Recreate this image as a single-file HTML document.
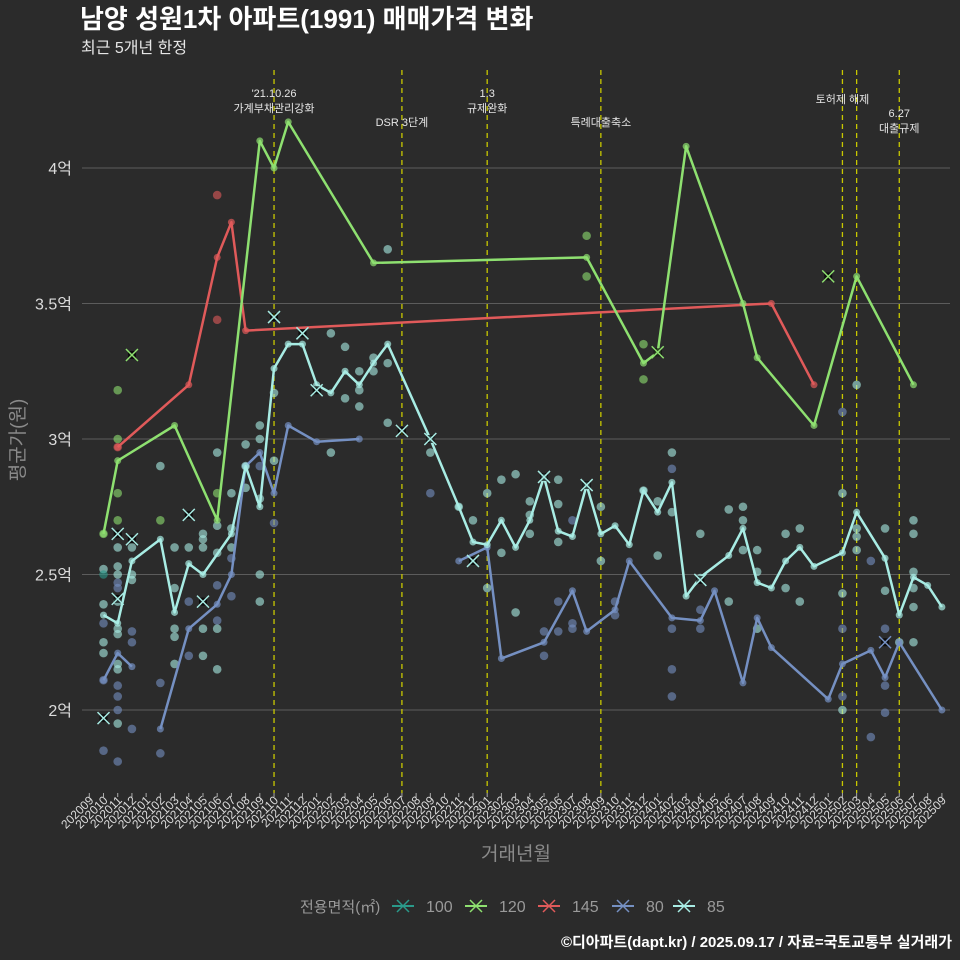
<!DOCTYPE html>
<html><head><meta charset="utf-8">
<style>
body{margin:0;background:#2b2b2b;}
svg{display:block;font-family:"Liberation Sans","Noto Sans CJK KR",sans-serif;}
</style></head>
<body>
<svg id="chart" width="960" height="960" viewBox="0 0 960 960">
<rect x="0" y="0" width="960" height="960" fill="#2b2b2b"/>
<text x="80" y="28" fill="#ffffff" font-size="26" font-weight="bold">남양 성원1차 아파트(1991) 매매가격 변화</text>
<text x="81" y="53" fill="#e6e6e6" font-size="16">최근 5개년 한정</text>
<text transform="translate(24,440) rotate(-90)" text-anchor="middle" fill="#8a8a8a" font-size="19">평균가(원)</text>
<text x="516" y="860" text-anchor="middle" fill="#8a8a8a" font-size="19">거래년월</text>
<g id="grid"></g><g id="vlines"></g><g id="annot"></g><g id="scatter"></g><g id="lines"></g><g id="marks"></g><g id="xaxis"></g><g id="yaxis"></g>
<g id="legend">
<text x="300" y="912" fill="#9a9a9a" font-size="15">전용면적(㎡)</text>
</g>
<text x="952" y="947" text-anchor="end" fill="#ffffff" font-size="15" font-weight="bold">©디아파트(dapt.kr) / 2025.09.17 / 자료=국토교통부 실거래가</text>
</svg>
<script>
const months = [];
for (let y = 2020, m = 9; months.length < 61; ) { months.push(String(y) + String(m).padStart(2, '0')); m++; if (m > 12) { m = 1; y++; } }
const yTicks = [2, 2.5, 3, 3.5, 4];
const yTickLabels = ['2억', '2.5억', '3억', '3.5억', '4억'];
const seriesNames = ['100', '120', '145', '80', '85'];
const seriesColors = {'100':'#2a9a8a','120':'#8ee070','145':'#e05a5a','80':'#7590c2','85':'#a8ece4'};
// line series: month index + value; null value = break
const line120Months = [1,2,6,9,12,13,14,20,35,39,40,42,46,47,51,54,58];
const line120Values = [2.65,2.92,3.05,2.70,4.10,4.00,4.17,3.65,3.67,3.28,3.32,4.08,3.50,3.30,3.05,3.60,3.20];
const line145Months = [2,7,9,10,11,48,51];
const line145Values = [2.97,3.20,3.67,3.80,3.40,3.50,3.20];
const line80Months = [1,2,3,4,5,7,9,10,11,12,13,14,16,19,22,26,28,29,32,34,35,37,38,41,43,44,46,47,48,52,53,55,56,57,60];
const line80Values = [2.11,2.21,2.16,null,1.93,2.30,2.39,2.50,2.90,2.95,2.80,3.05,2.99,3.00,null,2.55,2.60,2.19,2.25,2.44,2.29,2.37,2.55,2.34,2.33,2.44,2.10,2.34,2.23,2.04,2.17,2.22,2.12,2.25,2.00];
const line85Months = [1,2,3,5,6,7,8,10,11,12,13,14,15,16,17,18,19,20,21,24,26,27,28,29,30,31,32,33,34,35,36,37,38,39,40,41,42,43,45,46,47,48,49,50,51,53,54,56,57,58,59,60];
const line85Values = [2.35,2.32,2.55,2.63,2.36,2.54,2.50,2.65,2.90,2.75,3.26,3.35,3.35,3.20,3.17,3.25,3.20,3.28,3.35,3.00,2.75,2.62,2.61,2.70,2.60,2.70,2.86,2.66,2.64,2.83,2.65,2.68,2.61,2.81,2.73,2.84,2.42,2.49,2.57,2.67,2.47,2.45,2.55,2.60,2.53,2.58,2.73,2.56,2.35,2.49,2.46,2.38];
// scatter transactions
const scMonths = [1,1,1,1,1,1,1,1,1, 2,2,2,2,2,2,2,2,2,2,2,2,2,2,2,2,2,2,2,2, 3,3,3,3,3,3, 5,5,5,5, 6,6,6,6,6, 7,7,7, 8,8,8,8,8, 9,9,9,9,9,9,9,9,9,9, 10,10,10,10,10, 11,11,11, 12,12,12,12,12,12, 13,13,13, 17,17, 18,18, 19,19,19, 20,20, 21,21,21, 24,24, 26, 27, 28,28, 29,29, 30,30, 31,31,31, 32,32, 33,33,33,33,33, 34,34,34, 35,35, 36,36, 37,37, 39,39,39, 40,40, 41,41,41,41,41,41, 43,43,43, 45,45, 46,46,46, 47,47,47, 49,49, 50,50, 53,53,53,53,53,53, 54,54,54,54, 55,55, 56,56,56,56,56, 57, 58,58,58,58,58,58];
const scValues = [2.65,2.52,2.50,2.39,2.32,2.25,2.21,2.11,1.85, 3.18,3.00,2.80,2.70,2.60,2.53,2.50,2.47,2.45,2.40,2.30,2.28,2.17,2.15,2.09,2.05,2.00,1.95,1.81,2.97, 2.60,2.50,2.48,2.29,2.25,1.93, 2.90,2.70,2.10,1.84, 2.60,2.45,2.30,2.27,2.17, 2.60,2.40,2.20, 2.65,2.63,2.60,2.30,2.20, 2.95,2.80,2.68,2.58,2.46,2.33,2.30,2.15,3.90,3.44, 2.80,2.67,2.60,2.56,2.42, 2.98,2.90,2.82, 3.05,3.00,2.90,2.78,2.50,2.40, 3.17,2.92,2.69, 3.39,2.95, 3.34,3.15, 3.25,3.12,3.18, 3.30,3.25, 3.70,3.28,3.06, 2.95,2.80, 2.75, 2.70, 2.80,2.45, 2.85,2.58, 2.87,2.36, 2.77,2.72,2.65, 2.29,2.20, 2.85,2.76,2.62,2.40,2.29, 2.70,2.32,2.30, 3.75,3.60, 2.75,2.55, 2.40,2.35, 3.35,3.22,2.81, 2.77,2.57, 2.95,2.89,2.73,2.30,2.15,2.05, 2.65,2.37,2.30, 2.74,2.40, 2.75,2.70,2.59, 2.59,2.51,2.30, 2.65,2.45, 2.67,2.40, 3.10,2.80,2.43,2.30,2.05,2.00, 3.20,2.67,2.64,2.59, 2.55,1.90, 2.67,2.44,2.30,2.09,1.99, 2.25, 2.70,2.65,2.51,2.45,2.38,2.25];
const scSeries = ['120','85','100','85','80','85','85','80','80', '120','120','120','120','85','85','85','80','80','85','85','85','85','85','80','80','80','85','80','145', '85','85','85','80','80','80', '85','120','80','80', '85','85','85','85','85', '85','80','80', '85','85','85','85','85', '85','120','85','85','80','80','85','85','145','145', '85','85','85','80','80', '85','85','85', '85','85','80','85','85','85', '85','85','80', '85','85', '85','85', '85','85','85', '85','85', '85','85','85', '85','80', '85', '85', '85','85', '85','85', '85','85', '85','85','85', '80','80', '85','85','85','80','80', '80','80','80', '120','120', '85','85', '80','80', '120','120','85', '85','85', '85','80','85','80','80','80', '85','80','80', '85','85', '85','85','85', '85','85','85', '85','85', '85','85', '80','85','85','80','80','85', '85','85','85','85', '80','80', '85','85','80','80','80', '85', '85','85','85','85','85','85'];
// cancelled-deal markers
const xMonths = [3,52,40,2,3,7,2,8,1,13,15,16,22,24,27,32,35,43,56];
const xValues = [3.31,3.60,3.32,2.65,2.63,2.72,2.41,2.40,1.97,3.45,3.39,3.18,3.03,3.00,2.55,2.86,2.83,2.48,2.25];
const xSeries = ['120','120','120','85','85','85','85','85','85','85','85','85','85','85','85','85','85','85','80'];
// policy events
const eventMonths = ['202110','202207','202301','202309','202502','202503','202506'];
const eventLabels = [["'21.10.26","가계부채관리강화"],["DSR 3단계"],["1.3","규제완화"],["특례대출축소"],["토허제 해제"],[],["6.27","대출규제"]];

const NS = 'http://www.w3.org/2000/svg';
const X0 = 89.3, DX = 14.21;
const xScale = i => X0 + i * DX;
const yScale = v => 168 + (4 - v) * 271;
function mk(tag, attrs, parent) { const e = document.createElementNS(NS, tag); for (const k in attrs) e.setAttribute(k, attrs[k]); parent.appendChild(e); return e; }

const grid = document.getElementById('grid'), yaxis = document.getElementById('yaxis');
yTicks.forEach((t, k) => {
  const l = mk('line', {x1: 82, x2: 950, y1: yScale(t), y2: yScale(t), stroke: '#5c5c5c', 'stroke-width': 1.1}, grid);
  
  
  const tx = mk('text', {x: 72, y: yScale(t) + 6, 'text-anchor': 'end', fill: '#dcdcdc', 'font-size': 16}, yaxis);
  tx.textContent = yTickLabels[k];
  
  
});
const xaxis = document.getElementById('xaxis');
months.forEach((m, i) => {
  const x = xScale(i);
  const tk = mk('line', {x1: x, x2: x, y1: 793, y2: 797, stroke: '#aaa', 'stroke-width': 1}, xaxis);
  
  
  const tx = mk('text', {transform: `translate(${x + 5},${801}) rotate(-45)`, 'text-anchor': 'end', fill: '#dcdcdc', 'font-size': 12}, xaxis);
  tx.textContent = m;
  
  
});
const vl = document.getElementById('vlines'), an = document.getElementById('annot');
eventMonths.forEach((m, k) => {
  const x = xScale(months.indexOf(m));
  const l = mk('line', {x1: x, x2: x, y1: 70, y2: 793, stroke: '#c8c800', 'stroke-width': 1.3, 'stroke-dasharray': '5,4'}, vl);
  
  
  const lines = eventLabels[k];
  const base = m === '202110' || m === '202301' ? 97 : (m === '202502' ? 103 : (m === '202506' ? 117 : 126));
  lines.forEach((s, j) => {
    const t = mk('text', {x: x, y: base + j * 15, 'text-anchor': 'middle', fill: '#e6e6e6', 'font-size': 11}, an);
    t.textContent = s;
    
    
  });
});
const sc = document.getElementById('scatter');
scMonths.forEach((i, k) => {
  const c = mk('circle', {cx: xScale(i), cy: yScale(scValues[k]), r: 4.3, fill: seriesColors[scSeries[k]], 'fill-opacity': 0.6}, sc);
  
  
});
const lg = document.getElementById('lines');
function drawLine(ms, vs, name) {
  let d = '', pen = false;
  ms.forEach((i, k) => {
    const v = vs[k];
    if (v === null) { pen = false; return; }
    d += (pen ? 'L' : 'M') + xScale(i).toFixed(1) + ',' + yScale(v).toFixed(1);
    pen = true;
    const c = mk('circle', {cx: xScale(i), cy: yScale(v), r: 3.5, fill: seriesColors[name], 'fill-opacity': 0.7}, lg);
    
    
  });
  const p = mk('path', {d: d, fill: 'none', stroke: seriesColors[name], 'stroke-width': 2.5, 'stroke-linejoin': 'round'}, lg);
  
  
}
drawLine(line145Months, line145Values, '145');
drawLine(line80Months, line80Values, '80');
drawLine(line85Months, line85Values, '85');
drawLine(line120Months, line120Values, '120');
const mg = document.getElementById('marks');
xMonths.forEach((i, k) => {
  const x = xScale(i), y = yScale(xValues[k]), s = 6;
  const g = mk('g', {}, mg);
  
  
  mk('rect', {x: x - 4, y: y - 4, width: 8, height: 8, fill: '#000', 'fill-opacity': 0.7}, g);
  mk('path', {d: `M${x - s},${y - s}L${x + s},${y + s}M${x - s},${y + s}L${x + s},${y - s}`, stroke: seriesColors[xSeries[k]], 'stroke-width': 1.5}, g);
});
const leg = document.getElementById('legend');
const legX = [392, 465, 538, 612, 673];
seriesNames.forEach((n, k) => {
  const x = legX[k], y = 906;
  const g = mk('g', {}, leg);
  
  
  mk('line', {x1: x, x2: x + 22, y1: y, y2: y, stroke: seriesColors[n], 'stroke-width': 2}, g);
  mk('path', {d: `M${x + 5},${y - 6}L${x + 17},${y + 6}M${x + 5},${y + 6}L${x + 17},${y - 6}`, stroke: seriesColors[n], 'stroke-width': 1.5}, g);
  const t = mk('text', {x: x + 34, y: y + 6, fill: '#9a9a9a', 'font-size': 16}, g);
  t.textContent = n;
});
</script>
</body></html>
